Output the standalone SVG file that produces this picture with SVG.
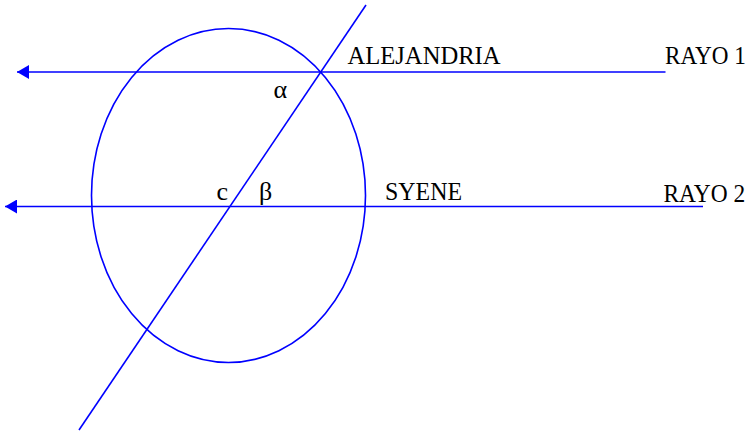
<svg xmlns="http://www.w3.org/2000/svg" width="754" height="435" viewBox="0 0 754 435">
  <defs>
    <marker id="arrow" markerUnits="userSpaceOnUse" markerWidth="12" markerHeight="14" refX="12" refY="7" orient="auto">
      <path d="M0,0 L12,7 L0,14 z" fill="#0000FF"/>
    </marker>
    <style>
      .ln { stroke: #0000FF; stroke-width: 1.6; fill: none; }
      text { font-family: 'Liberation Serif', 'Times New Roman', 'DejaVu Serif', serif; font-size: 26px; fill: #000000; }
    </style>
  </defs>
  <rect width="754" height="435" fill="#FFFFFF"/>
  <g id="earth">
    <ellipse class="ln" cx="228.5" cy="195.5" rx="137" ry="167"/>
  </g>
  <g id="connectors">
    <line id="rayo1" class="ln" x1="665.5" y1="72" x2="17" y2="72" marker-end="url(#arrow)"/>
    <line id="rayo2" class="ln" x1="703" y1="206.5" x2="5" y2="206.5" marker-end="url(#arrow)"/>
    <line id="radius" class="ln" x1="366" y1="5" x2="79" y2="430"/>
  </g>
  <g id="labels" font-family="Liberation Serif, serif">
    <text x="347.5" y="64" textLength="153" lengthAdjust="spacingAndGlyphs">ALEJANDRIA</text>
    <text x="385" y="199.5" textLength="77" lengthAdjust="spacingAndGlyphs">SYENE</text>
    <text transform="translate(665,63.5) scale(0.89,1)" x="0" y="0">RAYO 1</text>
    <text transform="translate(663.5,201.5) scale(0.9,1)" x="0" y="0">RAYO 2</text>
    <text x="273.5" y="97.5">α</text>
    <text x="259" y="199.5">β</text>
    <text x="216.5" y="200">c</text>
  </g>
</svg>
